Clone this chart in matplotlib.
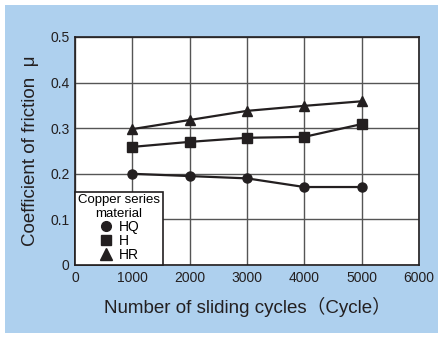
import matplotlib.pyplot as plt
from matplotlib.patches import Rectangle
from matplotlib.lines import Line2D

# data
cycles = [1000, 2000, 3000, 4000, 5000]
hq = [0.200, 0.195, 0.190, 0.171, 0.171]
h = [0.259, 0.270, 0.279, 0.281, 0.309]
hr = [0.298, 0.318, 0.338, 0.349, 0.359]
x_ticks = [0, 1000, 2000, 3000, 4000, 5000, 6000]
y_ticks = [0, 0.1, 0.2, 0.3, 0.4, 0.5]

plt.rcParams['font.family'] = ['Liberation Sans', 'Noto Sans CJK JP', 'DejaVu Sans']

fig = plt.figure(figsize=(4.39, 3.43), dpi=100)
fig.patch.set_facecolor('white')
# blue panel behind the chart
fig.patches.append(Rectangle((5 / 439, 1 - 333 / 343), 433 / 439, 328 / 343,
                             transform=fig.transFigure, facecolor='#aed0ee',
                             edgecolor='none', zorder=-1))

ax = fig.add_axes([75 / 439, 1 - 265 / 343, 344 / 439, 228 / 343])
ax.set_facecolor('white')
ax.set_xlim(0, 6000)
ax.set_ylim(0, 0.5)
ax.set_xticks(x_ticks)
ax.set_yticks(y_ticks)
ax.set_xticklabels([str(v) for v in x_ticks])
ax.set_yticklabels(['0', '0.1', '0.2', '0.3', '0.4', '0.5'])
ax.tick_params(length=0, pad=4, labelsize=10, colors='#231f20')
for lbl in ax.get_xticklabels() + ax.get_yticklabels():
    lbl.set_family(['Liberation Sans Narrow', 'Liberation Sans'])
ax.grid(True, color='#555555', linewidth=1.0)
ax.set_axisbelow(True)
for s in ax.spines.values():
    s.set_color('#231f20')
    s.set_linewidth(1.2)

kw = dict(color='#231f20', linewidth=1.6, markersize=6.5, clip_on=False)
ax.plot(cycles, hq, marker='o', **kw)
ax.plot(cycles, h, marker='s', **kw)
ax.plot(cycles, hr, marker='^', markersize=7.5, color='#231f20', linewidth=1.6, clip_on=False)

ax.set_xlabel('Number of sliding cycles（Cycle）', fontsize=13.5, color='#231f20', labelpad=9)
ax.set_ylabel('Coefficient of friction  μ', fontsize=13.5, color='#231f20', labelpad=8)

handles = [Line2D([], [], color='#231f20', marker=m, linestyle='none', markersize=ms)
           for m, ms in [('o', 7), ('s', 7), ('^', 8)]]
leg = ax.legend(handles, ['HQ', 'H', 'HR'], title='Copper series\nmaterial',
                loc='lower left', bbox_to_anchor=(0, 0), frameon=True, fancybox=False,
                fontsize=10, title_fontsize=9.5, borderpad=0.2, labelspacing=0.0,
                handletextpad=0.3, handlelength=1.2, borderaxespad=0)
leg.get_title().set_multialignment('center')
leg.get_frame().set_edgecolor('#231f20')
leg.get_frame().set_linewidth(1.2)
leg.get_frame().set_alpha(1)

fig.savefig('out.png', dpi=100)
